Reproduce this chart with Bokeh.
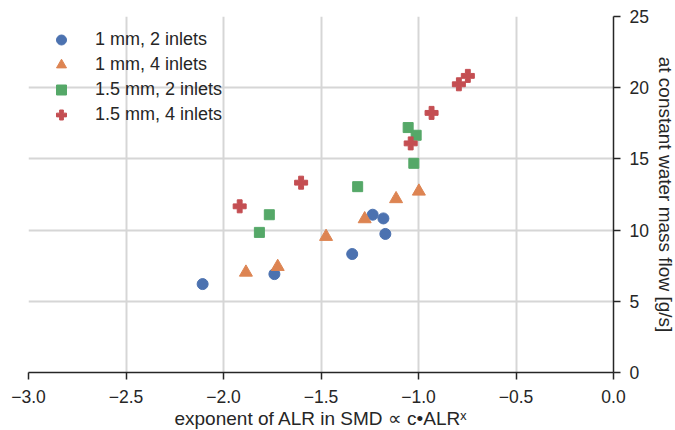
from bokeh.plotting import figure
from bokeh.models import LinearAxis, Legend, LegendItem, FixedTicker, Range1d
from bokeh.embed import file_html
from bokeh.resources import INLINE

series_names = ["1 mm, 2 inlets", "1 mm, 4 inlets", "1.5 mm, 2 inlets", "1.5 mm, 4 inlets"]

x_1mm_2 = [-2.107, -1.739, -1.340, -1.235, -1.180, -1.170]
y_1mm_2 = [6.21, 6.91, 8.32, 11.08, 10.82, 9.73]

x_1mm_4 = [-1.885, -1.722, -1.474, -1.276, -1.115, -0.998]
y_1mm_4 = [7.03, 7.43, 9.54, 10.78, 12.19, 12.72]

x_15mm_2 = [-1.816, -1.765, -1.312, -1.024, -1.053, -1.012]
y_15mm_2 = [9.84, 11.08, 13.05, 14.69, 17.20, 16.66]

x_15mm_4 = [-1.917, -1.602, -1.040, -0.933, -0.793, -0.747]
y_15mm_4 = [11.67, 13.33, 16.09, 18.23, 20.24, 20.83]

x_ticks = [-3.0, -2.5, -2.0, -1.5, -1.0, -0.5, 0.0]
y_ticks = [0, 5, 10, 15, 20, 25]

colors = ["#4C72B0", "#DD8452", "#55A868", "#C44E52"]
FONT = "Liberation Sans"
AX = "#262626"

p = figure(frame_width=585, frame_height=356, output_backend="svg", toolbar_location=None,
           x_range=Range1d(-3.0, 0.0), y_range=Range1d(0, 25),
           x_axis_location="below", y_axis_location=None,
           min_border_left=28, min_border_top=16, min_border_right=0, min_border_bottom=2)
p.outline_line_color = None
p.background_fill_color = "white"

# x axis
xa = p.xaxis[0]
xa.ticker = FixedTicker(ticks=x_ticks)
xa.major_label_overrides = {t: f"{t:.1f}".replace("-", "\u2212") for t in x_ticks}
xa.axis_label = "exponent of ALR in SMD \u221d c\u2022ALR\u02e3"

ya = LinearAxis(ticker=FixedTicker(ticks=y_ticks), axis_label="at constant water mass flow [g/s]")
p.add_layout(ya, "right")

for ax in (xa, ya):
    ax.axis_line_color = AX
    ax.axis_line_width = 1.5
    ax.major_tick_line_color = AX
    ax.major_tick_line_width = 1.5
    ax.major_tick_out = 7
    ax.major_tick_in = 0
    ax.minor_tick_out = 0
    ax.minor_tick_in = 0
    ax.major_label_text_font = FONT
    ax.major_label_text_font_size = "17.5px"
    ax.major_label_text_color = AX
    ax.axis_label_text_font = FONT
    ax.axis_label_text_font_size = "19px"
    ax.axis_label_text_font_style = "normal"
    ax.axis_label_text_color = AX
xa.major_label_standoff = 10
xa.axis_label_standoff = 2
ya.major_label_standoff = 9
ya.axis_label_standoff = 3
ya.axis_label_orientation = "vertical"

p.xgrid.ticker = FixedTicker(ticks=x_ticks)
p.ygrid.ticker = FixedTicker(ticks=y_ticks)
for g in (p.xgrid[0], p.ygrid[0]):
    g.grid_line_color = "#d6d6d6"
    g.grid_line_width = 2

r1 = p.scatter(x_1mm_2, y_1mm_2, marker="circle", size=11, color=colors[0])
r2 = p.scatter(x_1mm_4, y_1mm_4, marker="triangle", size=13, color=colors[1])
r3 = p.scatter(x_15mm_2, y_15mm_2, marker="square", size=10, color=colors[2])
r4 = p.scatter(x_15mm_4, y_15mm_4, marker="plus", size=13, color=colors[3])

legend = Legend(items=[LegendItem(label=n, renderers=[r]) for n, r in zip(series_names, [r1, r2, r3, r4])],
                location=(8, 235), padding=10, margin=0, spacing=0,
                glyph_width=30, glyph_height=25, label_height=25, label_standoff=19,
                label_text_font=FONT, label_text_font_size="18px", label_text_color=AX,
                border_line_alpha=0, background_fill_alpha=0)
p.add_layout(legend, "center")

open("out.html", "w").write(file_html(p, INLINE))
